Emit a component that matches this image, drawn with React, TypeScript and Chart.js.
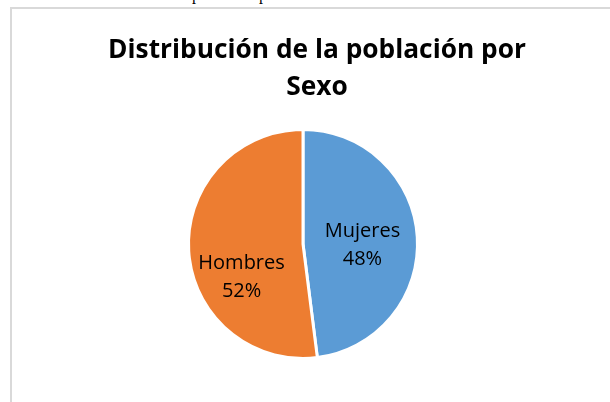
import React, { useEffect, useRef } from "react";
import { Chart, registerables } from "chart.js";

Chart.register(...registerables);

const categories = ["Mujeres", "Hombres"];
const values = [48, 52];
const sliceColors = ["#5B9BD5", "#ED7D31"];
const titleLines = ["Distribución de la población por", "Sexo"];
const captionText = "Gráfico 2: Distribución de la población por sexo";

// per-slice label nudges in px (layout only)
const labelNudge = [
  [0, 0],
  [-2, 24],
];

const titlePlugin = {
  id: "customTitle",
  afterDraw(chart: any) {
    const ctx = chart.ctx;
    ctx.save();
    ctx.font = 'bold 26.3px "Open Sans"';
    ctx.fillStyle = "#000000";
    ctx.textAlign = "center";
    ctx.textBaseline = "alphabetic";
    const baselines = [58, 95];
    titleLines.forEach((line, i) => ctx.fillText(line, 317, baselines[i]));
    ctx.restore();
  },
};

const sliceLabelPlugin = {
  id: "sliceLabels",
  afterDatasetsDraw(chart: any) {
    const ctx = chart.ctx;
    const meta = chart.getDatasetMeta(0);
    const data: number[] = chart.data.datasets[0].data;
    const total = data.reduce((a, b) => a + b, 0);
    ctx.save();
    ctx.font = '20px "Open Sans"';
    ctx.fillStyle = "#000000";
    ctx.textAlign = "center";
    ctx.textBaseline = "alphabetic";
    meta.data.forEach((arc: any, i: number) => {
      const p = arc.getProps(["x", "y", "startAngle", "endAngle", "outerRadius"], true);
      const mid = (p.startAngle + p.endAngle) / 2;
      const r = p.outerRadius * 0.52;
      const cx = p.x + Math.cos(mid) * r + labelNudge[i][0];
      const cy = p.y + Math.sin(mid) * r + labelNudge[i][1];
      const pct = Math.round((data[i] / total) * 100) + "%";
      ctx.fillText(chart.data.labels[i], cx, cy - 3);
      ctx.fillText(pct, cx, cy + 25);
    });
    ctx.restore();
  },
};

export default function App() {
  const canvasRef = useRef<HTMLCanvasElement | null>(null);

  useEffect(() => {
    if (!canvasRef.current) return;
    const chart = new Chart(canvasRef.current, {
      type: "pie",
      data: {
        labels: categories,
        datasets: [
          {
            data: values,
            backgroundColor: sliceColors,
            borderColor: "#ffffff",
            borderWidth: 3,
          },
        ],
      },
      options: {
        responsive: false,
        animation: false,
        devicePixelRatio: 1,
        layout: { padding: { left: 0, right: 4, top: 128, bottom: 42 } },
        plugins: {
          legend: { display: false },
          title: { display: false },
          tooltip: { enabled: false },
        },
      },
      plugins: [titlePlugin, sliceLabelPlugin],
    });
    return () => chart.destroy();
  }, []);

  return (
    <div style={{ position: "fixed", left: 0, top: 0, width: 610, height: 402, overflow: "hidden", background: "#ffffff" }}>
      <div
        style={{
          position: "absolute",
          left: 4,
          top: -13,
          fontFamily: '"Liberation Serif", serif',
          fontSize: 16,
          lineHeight: "16px",
          whiteSpace: "nowrap",
          color: "#000",
        }}
      >
        {captionText}
      </div>
      <div
        style={{
          position: "absolute",
          left: 10,
          top: 7,
          width: 620,
          height: 420,
          border: "2px solid #d9d9d9",
          boxSizing: "border-box",
        }}
      />
      <canvas
        ref={canvasRef}
        width={610}
        height={402}
        style={{ position: "absolute", left: 0, top: 0, width: 610, height: 402 }}
      />
    </div>
  );
}
